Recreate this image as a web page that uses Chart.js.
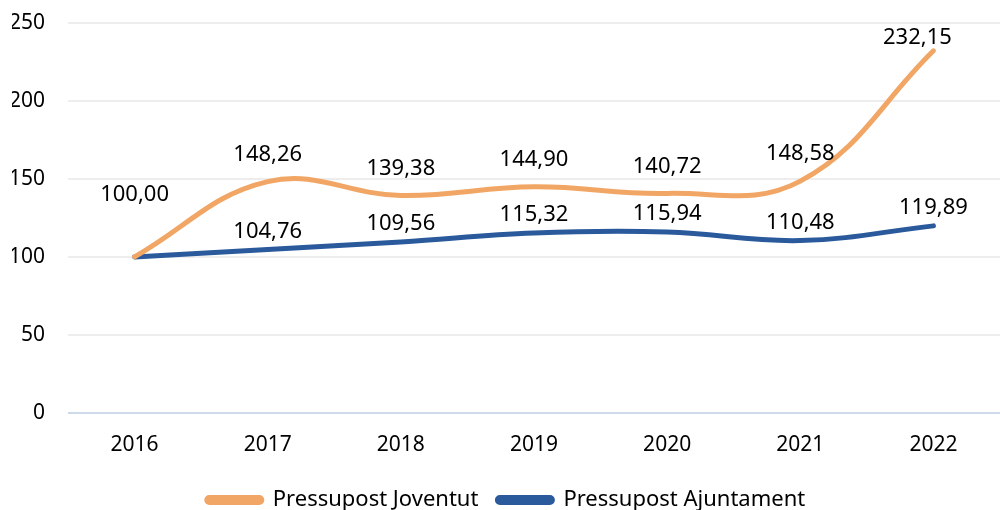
<!DOCTYPE html>
<html>
<head>
<meta charset="utf-8">
<script src="https://cdn.jsdelivr.net/npm/chart.js@4.4.0/dist/chart.umd.min.js"></script>
<style>
  html, body { margin: 0; padding: 0; background: #fff; }
  #wrap { width: 1000px; height: 510px; position: relative; }
</style>
</head>
<body>
<div id="wrap"><canvas id="chart"></canvas></div>
<script>
const years = ['2016', '2017', '2018', '2019', '2020', '2021', '2022'];
const joventut = [100.00, 148.26, 139.38, 144.90, 140.72, 148.58, 232.15];
const ajuntament = [100.00, 104.76, 109.56, 115.32, 115.94, 110.48, 119.89];
const yTicks = [0, 50, 100, 150, 200, 250];

const fontFamily = '"Noto Sans", sans-serif';

function fmt(v) {
    return v.toFixed(2).replace('.', ',');
}

// draws the value labels above each point, Excel style
const valueLabels = {
    id: 'valueLabels',
    afterDatasetsDraw(chart) {
        const ctx = chart.ctx;
        ctx.save();
        ctx.font = '22px ' + fontFamily;
        ctx.fillStyle = '#000';
        ctx.textAlign = 'center';
        ctx.textBaseline = 'middle';
        chart.data.datasets.forEach((ds, di) => {
            const meta = chart.getDatasetMeta(di);
            meta.data.forEach((pt, i) => {
                // first point is shared, only the top series shows it
                if (i === 0 && di === 1) return;
                let dy = di === 0 ? 27 : 18;
                let dx = 0;
                if (i === 0) dy = 62;
                if (di === 0 && i === ds.data.length - 1) { dy = 13; dx = -16; }
                ctx.fillText(fmt(ds.data[i]), pt.x + dx, pt.y - dy);
            });
        });
        ctx.restore();
    }
};

new Chart(document.getElementById('chart'), {
    type: 'line',
    data: {
        labels: years,
        datasets: [{
            label: 'Pressupost Joventut',
            data: joventut,
            borderColor: '#F2A665',
            backgroundColor: '#F2A665',
            borderWidth: 5,
            borderCapStyle: 'round',
            tension: 0.4,
            pointRadius: 0,
            fill: false
        }, {
            label: 'Pressupost Ajuntament',
            data: ajuntament,
            borderColor: '#2A5A9C',
            backgroundColor: '#2A5A9C',
            borderWidth: 5,
            borderCapStyle: 'round',
            tension: 0.4,
            pointRadius: 0,
            fill: false
        }]
    },
    options: {
        responsive: true,
        maintainAspectRatio: false,
        animation: false,
        layout: {
            padding: { left: 12, right: 0, top: 23, bottom: -11 }
        },
        scales: {
            x: {
                offset: true,
                grid: { display: false },
                border: { display: false },
                ticks: {
                    color: '#000',
                    padding: 12,
                    font: { size: 21, family: fontFamily }
                }
            },
            y: {
                min: 0,
                max: 250,
                afterBuildTicks: axis => {
                    axis.ticks = yTicks.map(v => ({ value: v }));
                },
                afterFit: axis => {
                    axis.width = 56;
                    axis.paddingTop = 0;
                    axis.paddingBottom = 0;
                },
                border: { display: false },
                grid: {
                    lineWidth: 2,
                    drawTicks: false,
                    color: c => c.tick && c.tick.value === 0 ? '#CCDAEC' : '#EDEDED'
                },
                ticks: {
                    color: '#000',
                    padding: 23,
                    font: { size: 21, family: fontFamily }
                }
            }
        },
        plugins: {
            legend: {
                position: 'bottom',
                labels: {
                    color: '#000',
                    boxWidth: 55,
                    boxHeight: 5,
                    useBorderRadius: true,
                    borderRadius: 2.5,
                    padding: 19,
                    font: { size: 22, family: fontFamily }
                }
            },
            tooltip: { enabled: false }
        }
    },
    plugins: [valueLabels]
});
</script>
</body>
</html>
